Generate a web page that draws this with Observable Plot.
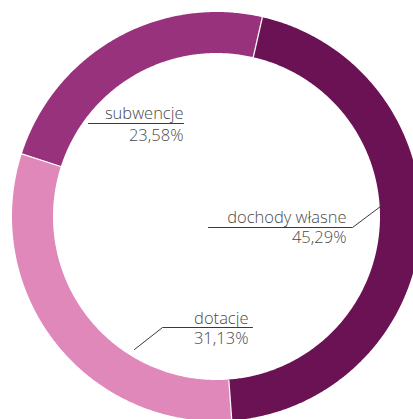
<!DOCTYPE html>
<html><head><meta charset="utf-8">
<script src="https://cdn.jsdelivr.net/npm/d3@7"></script>
<script src="https://cdn.jsdelivr.net/npm/@observablehq/plot@0.6"></script>
<style>
html,body{margin:0;padding:0;background:#fff;overflow:hidden;}
svg{display:block;}
</style>
</head><body>
<div id="chart"></div>
<script>
// data
const categories = ["dochody własne", "dotacje", "subwencje"];
const values = [45.29, 31.13, 23.58];
const colors = ["#6b1254", "#e088ba", "#99327d"];

// layout (pixels): center and radii of the ring, start angle
const W = 413, H = 419;
const CX = 216.5, CY = 216.5, R_OUT = 204.5, R_IN = 163.5;
const START_DEG = 12.8;

// px -> data units (radius = 1)
const X = px => (px - CX) / R_OUT;
const Y = py => (CY - py) / R_OUT;
const rIn = R_IN / R_OUT;

const arcs = d3.pie().sort(null)
  .startAngle(START_DEG * Math.PI / 180)
  .endAngle(START_DEG * Math.PI / 180 + 2 * Math.PI)(values);

const ringPts = [];
arcs.forEach((a, i) => {
  const n = Math.ceil((a.endAngle - a.startAngle) * 180 / Math.PI) * 2 + 1;
  for (let k = 0; k <= n; k++) {
    const t = a.startAngle + (a.endAngle - a.startAngle) * k / n;
    ringPts.push({cat: categories[i], xi: rIn * Math.sin(t), yi: rIn * Math.cos(t), xo: Math.sin(t), yo: Math.cos(t)});
  }
});
const seps = arcs.map(a => ({x1: rIn * Math.sin(a.startAngle), y1: rIn * Math.cos(a.startAngle), x2: 1.02 * Math.sin(a.startAngle), y2: 1.02 * Math.cos(a.startAngle)}));

// label layout (pixels)
const labelLayout = [
  {leader: [[380, 206], [352, 227], [208, 227]], tx: 346, ny: 222, py: 242},
  {leader: [[134, 349], [162, 327], [252, 327]], tx: 248, ny: 323, py: 343},
  {leader: [[88, 123], [183, 123]], tx: 183, ny: 118, py: 140}
];
const leaderPts = [];
labelLayout.forEach((l, i) => l.leader.forEach(p => leaderPts.push({cat: categories[i], x: X(p[0]), y: Y(p[1])})));
const labels = labelLayout.map((l, i) => ({
  name: categories[i],
  pct: values[i].toFixed(2).replace(".", ",") + "%",
  x: X(l.tx), ny: Y(l.ny), py: Y(l.py)
}));

const font = "'Open Sans', 'Noto Sans', sans-serif";
const chart = Plot.plot({
  width: W, height: H, margin: 0,
  style: {background: "#fff", fontFamily: font},
  x: {domain: [X(0), X(W)], axis: null},
  y: {domain: [Y(H), Y(0)], axis: null},
  color: {domain: categories, range: colors},
  marks: [
    Plot.area(ringPts, {x1: "xi", y1: "yi", x2: "xo", y2: "yo", z: "cat", fill: "cat", curve: "linear"}),
    Plot.link(seps, {x1: "x1", y1: "y1", x2: "x2", y2: "y2", stroke: "#fff", strokeWidth: 1.2}),
    Plot.line(leaderPts, {x: "x", y: "y", z: "cat", stroke: "#3a3a3a", strokeWidth: 1}),
    Plot.text(labels, {x: "x", y: "ny", text: "name", textAnchor: "end", lineAnchor: "bottom", fontSize: 16.5, fontWeight: 300, fill: "#4a4a4a"}),
    Plot.text(labels, {x: "x", y: "py", text: "pct", textAnchor: "end", lineAnchor: "bottom", fontSize: 16.5, fontWeight: 300, fill: "#4a4a4a"})
  ]
});
document.getElementById("chart").appendChild(chart);
</script>
</body></html>
